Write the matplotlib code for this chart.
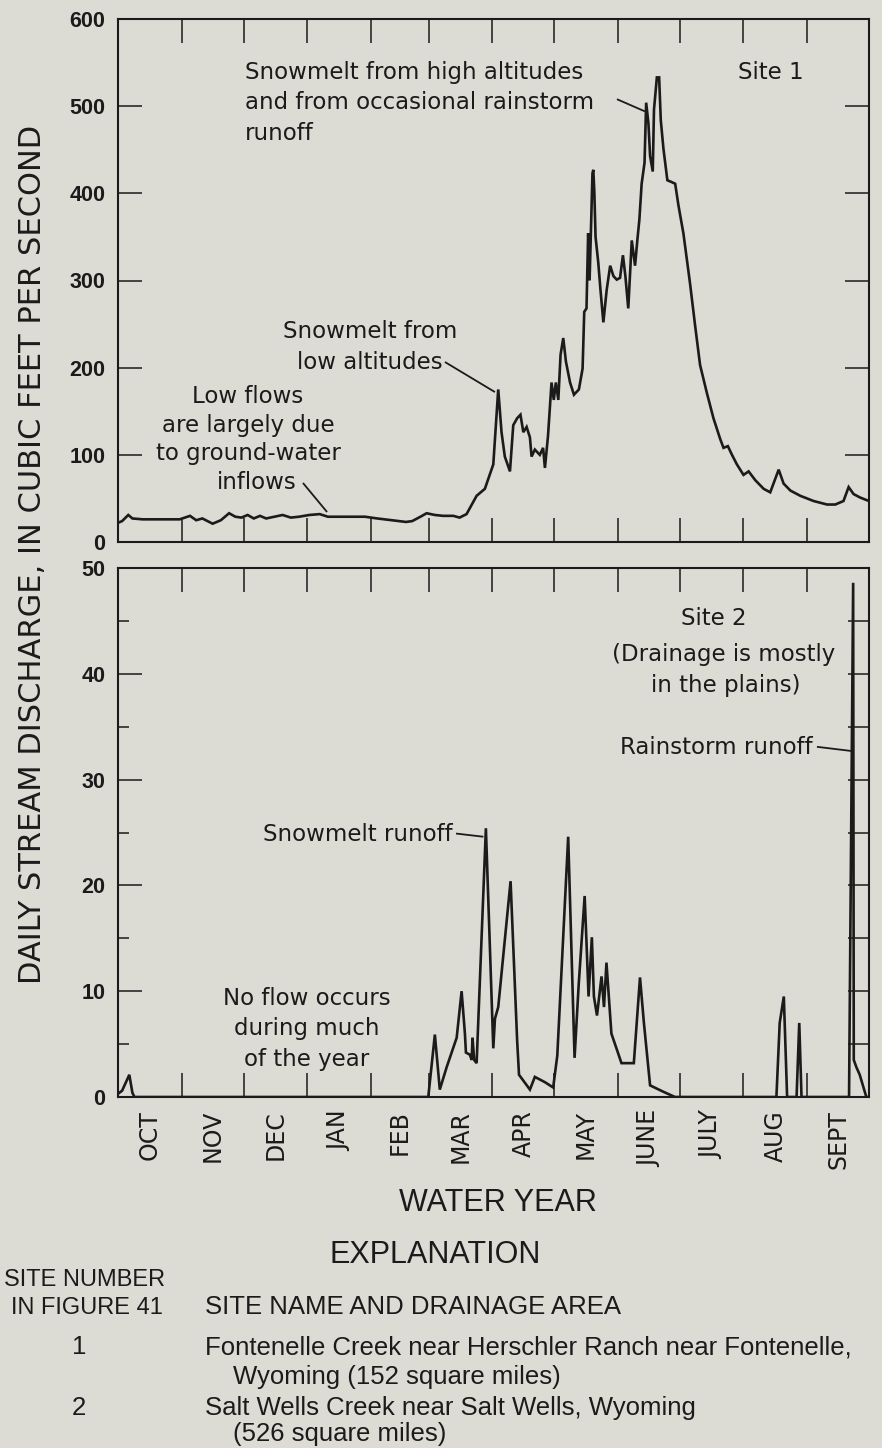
import matplotlib
matplotlib.use("Agg")
import matplotlib.pyplot as plt

# ---------------- data ----------------
months = ["OCT", "NOV", "DEC", "JAN", "FEB", "MAR", "APR", "MAY", "JUNE", "JULY", "AUG", "SEPT"]
month_days = [31, 30, 31, 31, 28, 31, 30, 31, 30, 31, 31, 30]

# Site 1: day of water year, daily discharge (cfs)
site1_day = [0, 2, 5, 7, 12, 20, 30, 35, 38, 41, 46, 50, 54, 57, 60, 63, 66, 69, 72, 76,
             80, 84, 88, 93, 98, 102, 110, 120, 126, 133, 140, 143, 147, 150, 154, 158, 163, 166,
             169.4, 174.3, 178.3, 182.4, 184.8, 186.4, 188, 190.5, 192.1, 194, 195.6, 197, 198.6,
             200.2, 201, 202.6, 205, 206.6, 207.5, 209, 210.7, 211.8, 212.8, 214, 215.1, 216.4,
             217.7, 219.7, 221.6, 224, 225.8, 226.6, 227.7, 228.5, 229.2, 230.6, 231, 231.5,
             232.1, 233.4, 234.5, 235.9, 237.5, 239.2, 240.8, 242.4, 244, 245.4, 246.6, 248,
             249.7, 251.3, 252.4, 253.4, 254.5, 255.9, 256.7, 257.8, 258.6, 259.9, 260.5, 261.9,
             263, 263.8, 265.1, 267, 269, 270.8, 272.4, 274.8, 278, 280.5, 282.9, 286.2, 289.4,
             292.7, 294.3, 296.4, 298.4, 300.8, 304, 306.5, 309.7, 313.8, 317, 321.1, 323.5,
             326.8, 331.6, 338.1, 344.6, 348.6, 352.6, 355.1, 357.5, 360.7, 365]
site1_q = [22, 24, 31, 27, 26, 26, 26, 30, 25, 27, 21, 25, 33, 29, 28, 31, 27, 30, 27, 29,
           31, 28, 29, 31, 32, 29, 29, 29, 27, 25, 23, 24, 29, 33, 31, 30, 30, 28,
           32, 53, 61, 89, 175, 126, 98, 81, 134, 142, 146, 126, 132,
           120, 98, 106, 100, 108, 85, 122, 183, 163, 183, 163, 215, 234,
           207, 183, 169, 175, 199, 264, 268, 354, 300, 423, 427, 402,
           350, 321, 289, 252, 289, 317, 305, 301, 303, 329, 305, 268,
           346, 317, 346, 370, 411, 435, 504, 480, 443, 425, 496, 533,
           533, 484, 451, 415, 413, 411, 386, 354, 297, 248, 203, 171, 142,
           118, 108, 110, 100, 89, 77, 81, 71, 61, 57, 83, 67,
           59, 53, 47, 43, 43, 47, 63, 55, 51, 47]

# Site 2: day of water year, daily discharge (cfs)
site2_day = [0, 2, 5.5, 7, 8, 150.8, 154, 156.4, 159.7, 164.6, 167, 168.6, 169.1, 171, 171.9,
             172.3, 173.1, 174.3, 178.8, 182.4, 183.2, 184.8, 190.8, 194, 194.9, 200.2, 202.6,
             207.5, 211.5, 213.5, 218.8, 221.9, 223.9, 226.8, 227.8, 228.7, 230.3, 231.3, 232.8,
             235, 236.2, 237.4, 239.8, 244.7, 250.7, 253.7, 255.6, 258.6, 265, 270.7,
             320, 321.6, 323.6, 325.2, 329.8, 331.1, 332.2, 355.3, 357.3, 357.6, 358.9, 360.5,
             363.7, 365]
site2_q = [0.3, 0.6, 2.1, 0.4, 0, 0, 5.9, 0.7, 2.8, 5.6, 10, 6, 4.2, 4, 3.5,
           5.6, 3.5, 3.2, 25.4, 4.6, 7.4, 8.5, 20.4, 5.3, 2.1, 0.7, 1.9,
           1.4, 0.9, 3.9, 24.6, 3.7, 10.6, 19, 14.1, 9.5, 15.1, 9.5, 7.7,
           11.4, 8.5, 12.7, 6, 3.2, 3.2, 11.3, 7, 1.1, 0.5, 0,
           0, 7, 9.5, 0, 0, 7, 0, 0, 48.6, 3.5, 2.8, 2.1,
           0, 0]

site1_yticks = [0, 100, 200, 300, 400, 500, 600]
site2_yticks = [0, 10, 20, 30, 40, 50]

# ---------------- layout helpers ----------------
W, H = 882, 1448
BG = "#dcdbd4"
INK = "#1b1b1b"


def fx(px):
    return px / W


def fy(py):
    return 1 - py / H


bounds = [0]
for d in month_days:
    bounds.append(bounds[-1] + d)
centers = [(bounds[i] + bounds[i + 1]) / 2 for i in range(12)]

fig = plt.figure(figsize=(W / 100, H / 100), dpi=100, facecolor=BG)

ax1 = fig.add_axes([fx(118), fy(542), fx(869) - fx(118), fy(19) - fy(542)])
ax2 = fig.add_axes([fx(118), fy(1097), fx(869) - fx(118), fy(568) - fy(1097)])

num_font = dict(family=["Liberation Sans", "DejaVu Sans"], weight="bold", size=15.5)
ann_font = dict(family=["DejaVu Sans"], size=16.5, color=INK)
exp_font = dict(family=["Liberation Sans", "DejaVu Sans"], color=INK)

for ax in (ax1, ax2):
    ax.set_facecolor(BG)
    ax.set_xlim(0, 365)
    for s in ax.spines.values():
        s.set_linewidth(1.5)
        s.set_color(INK)
    ax.set_xticks(bounds[1:-1])
    ax.tick_params(axis="x", which="major", direction="in", top=True, bottom=True,
                   length=17, width=1.1, color=INK, labelbottom=False)

ax1.plot(site1_day, site1_q, color=INK, lw=1.9, solid_joinstyle="miter")
ax2.plot(site2_day, site2_q, color=INK, lw=1.9, solid_joinstyle="miter")

ax1.set_ylim(0, 600)
ax1.set_yticks(site1_yticks)
ax1.set_yticklabels([str(v) for v in site1_yticks], fontdict=num_font)
ax1.tick_params(axis="y", direction="in", left=True, right=True, length=17, width=1.1,
                color=INK, pad=9, labelcolor=INK)

ax2.set_ylim(0, 50)
ax2.set_yticks(site2_yticks)
ax2.set_yticklabels([str(v) for v in site2_yticks], fontdict=num_font)
ax2.set_yticks([5, 15, 25, 35, 45], minor=True)
ax2.tick_params(axis="y", which="major", direction="in", left=True, right=False,
                length=17, width=1.1, color=INK, pad=9, labelcolor=INK)
ax2.tick_params(axis="y", which="minor", direction="in", left=True, right=False,
                length=8, width=1.1, color=INK)
ax2r = ax2.twinx()
ax2r.set_ylim(0, 50)
ax2r.set_yticks(list(range(0, 51, 5)))
ax2r.tick_params(axis="y", direction="in", length=15, width=1.1, color=INK, labelright=False)
for s in ax2r.spines.values():
    s.set_visible(False)

# month labels
ax2.set_xticks(centers, minor=True)
ax2.set_xticklabels(months, minor=True, rotation=90,
                    fontdict=dict(family=["DejaVu Sans"], size=17))
ax2.tick_params(axis="x", which="minor", length=0, pad=9.5, labelcolor=INK,
                top=False)

# y label
fig.text(fx(32.5), fy(554), "DAILY STREAM DISCHARGE, IN CUBIC FEET PER SECOND",
         rotation=90, ha="center", va="center", family=["DejaVu Sans"], size=22,
         color=INK)


def T(px, py, s, ha="left", **kw):
    d = dict(ann_font)
    d.update(kw)
    fig.text(fx(px), fy(py), s, ha=ha, va="baseline", **d)


# top panel annotations
T(245, 79, "Snowmelt from high altitudes")
T(245, 109, "and from occasional rainstorm")
T(245, 140, "runoff")
T(771, 79, "Site 1", ha="center")
T(370, 338, "Snowmelt from", ha="center")
T(370, 369, "low altitudes", ha="center")
T(248, 403, "Low flows", ha="center")
T(248, 432, "are largely due", ha="center")
T(248, 460, "to ground-water", ha="center")
T(257, 489, "inflows", ha="center")

lead = dict(color=INK, lw=1.3, solid_capstyle="butt")
ax1.plot([242.5, 256.1], [508, 494], **lead)
ax1.plot([158.9, 183.2], [206.5, 172], **lead)
ax1.plot([89.9, 101.6], [67.7, 34.4], **lead)

# bottom panel annotations
T(714, 625, "Site 2", ha="center")
T(724, 661, "(Drainage is mostly", ha="center")
T(726, 692, "in the plains)", ha="center")
T(813, 754, "Rainstorm runoff", ha="right")
T(453, 841, "Snowmelt runoff", ha="right")
T(307, 1005, "No flow occurs", ha="center")
T(307, 1035, "during much", ha="center")
T(307, 1066, "of the year", ha="center")

ax2.plot([164.3, 177.6], [24.9, 24.6], **lead)
ax2.plot([339.7, 356.6], [33.1, 32.7], **lead)


# explanation
def E(px, py, s, size, ha="left"):
    fig.text(fx(px), fy(py), s, ha=ha, va="baseline", size=size, **exp_font)


E(498, 1211, "WATER YEAR", 22, ha="center")
E(435, 1263, "EXPLANATION", 22, ha="center")
E(165, 1286, "SITE NUMBER", 17, ha="right")
E(163, 1314, "IN FIGURE 41", 17, ha="right")
E(205, 1314, "SITE NAME AND DRAINAGE AREA", 18.5)
E(79, 1354, "1", 18.5, ha="center")
E(205, 1354, "Fontenelle Creek near Herschler Ranch near Fontenelle,", 18.5)
E(233, 1384, "Wyoming (152 square miles)", 18.5)
E(79, 1415, "2", 18.5, ha="center")
E(205, 1415, "Salt Wells Creek near Salt Wells, Wyoming", 18.5)
E(233, 1441, "(526 square miles)", 18.5)

fig.savefig("out.png", dpi=100, facecolor=BG)
